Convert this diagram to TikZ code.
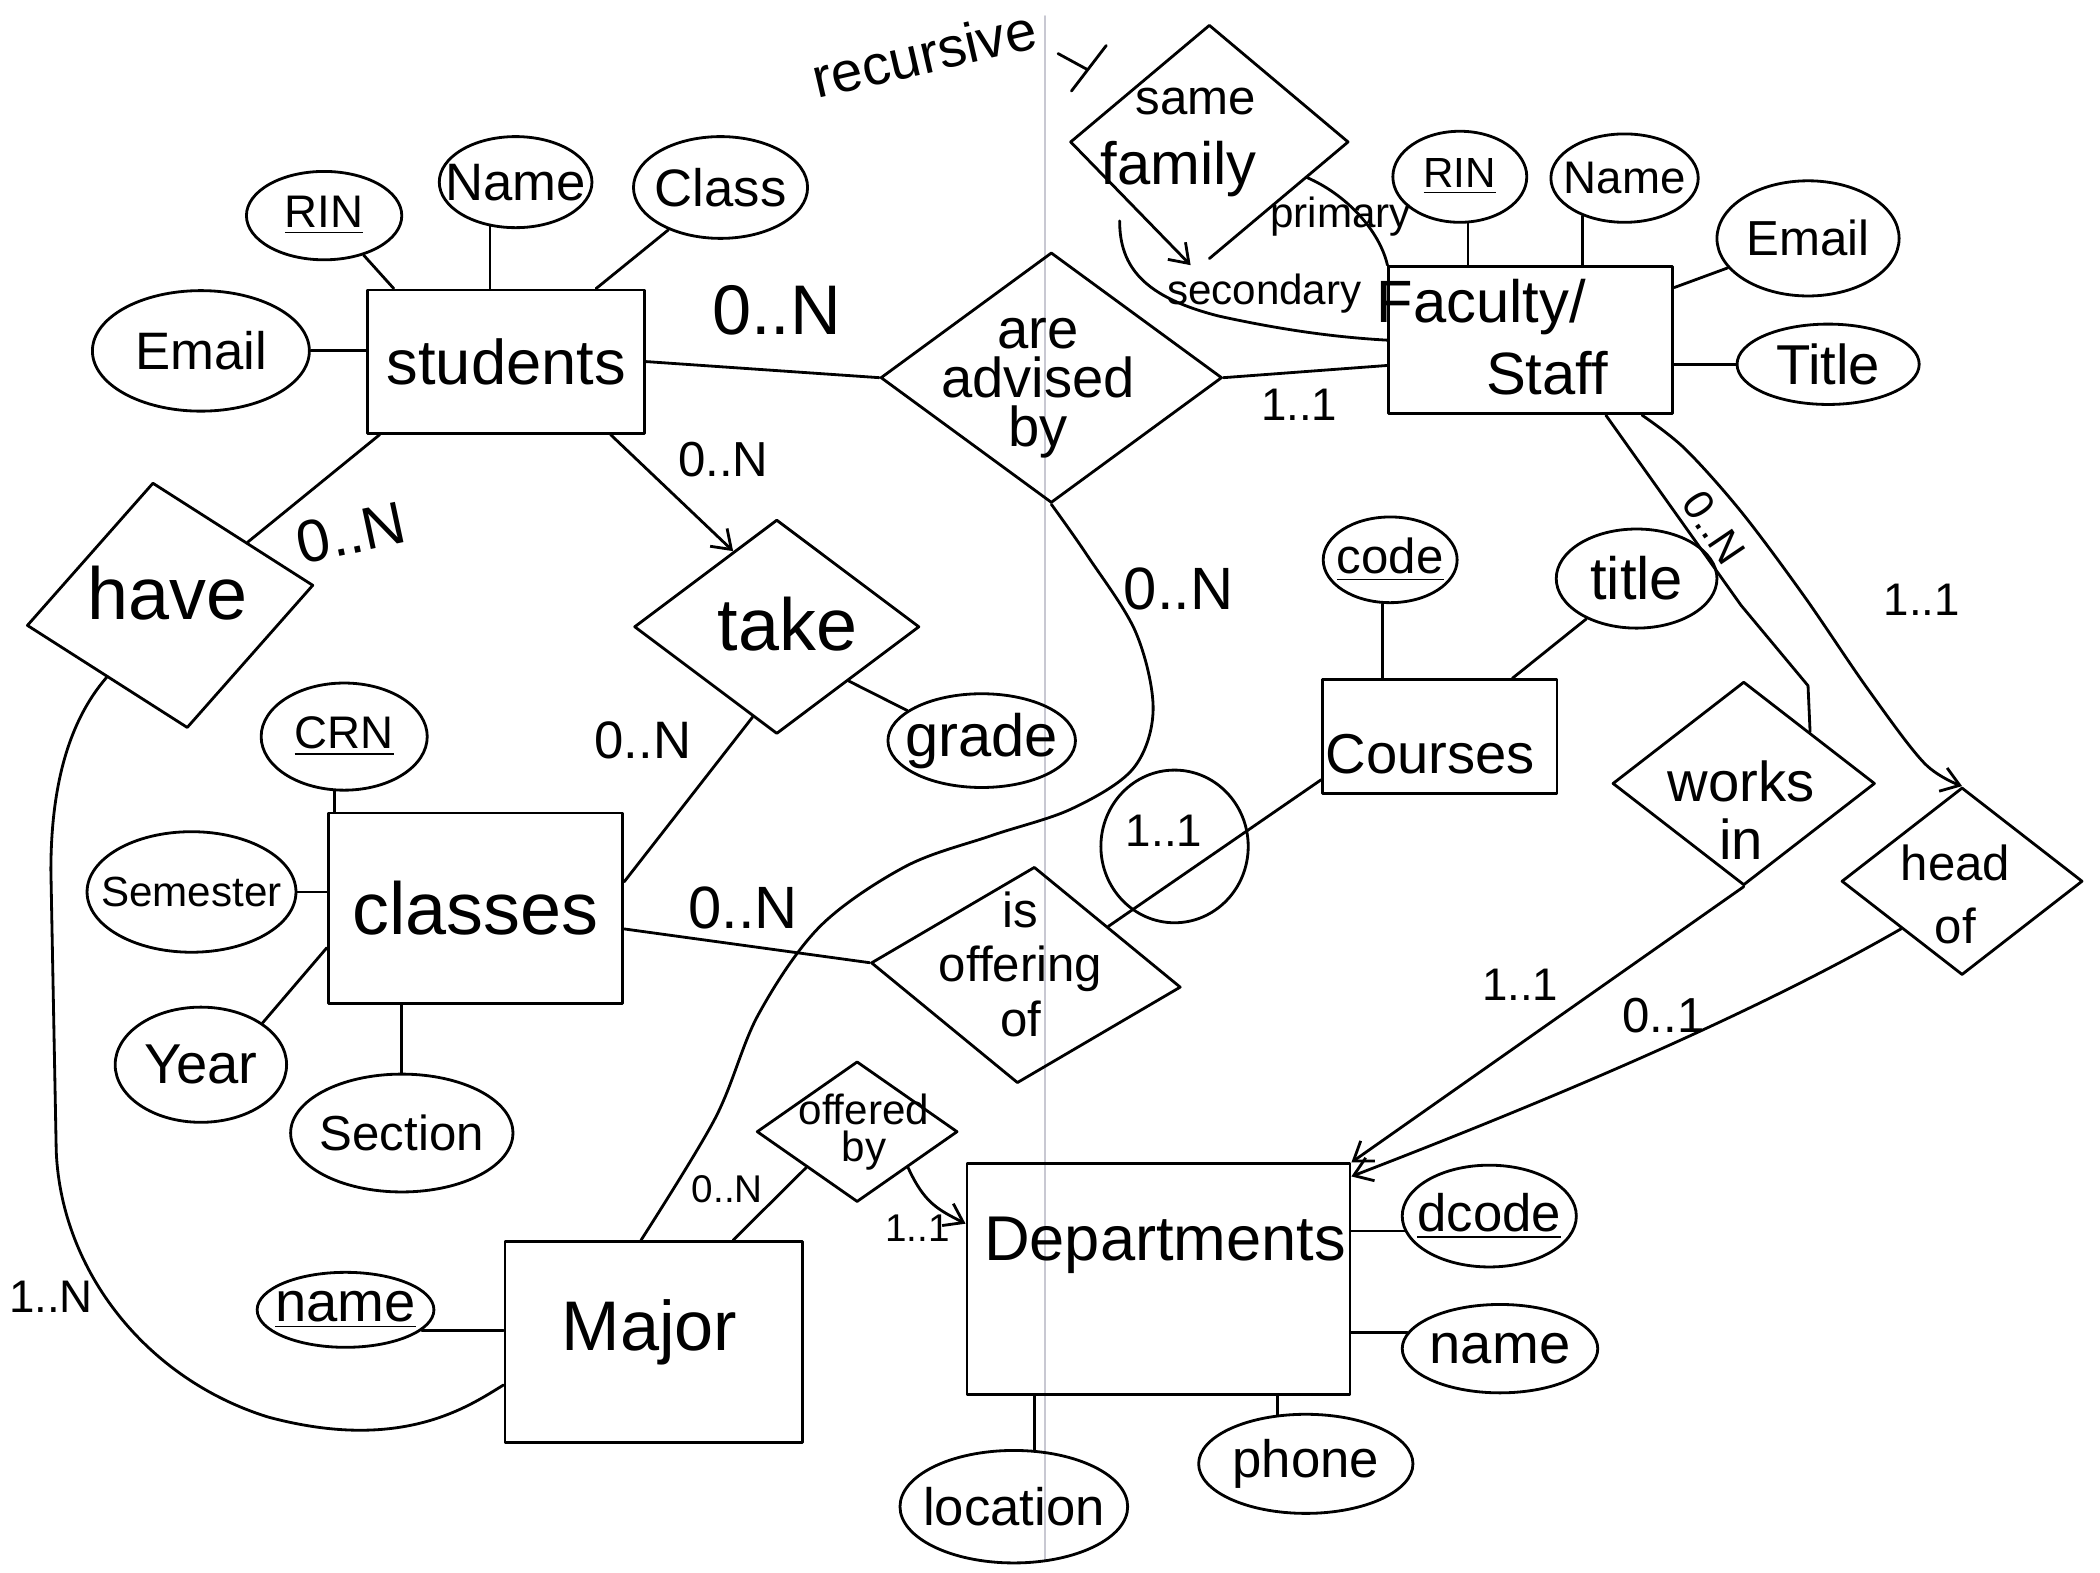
\documentclass[tikz,border=0pt]{standalone}
\usepackage{fontspec}
\setmainfont{Liberation Sans}
\usetikzlibrary{shapes.geometric,arrows.meta}
\newcommand{\myfs}[1]{\fontsize{#1}{#1}\selectfont}
\definecolor{foldgray}{RGB}{200,200,210}
\begin{document}
\begin{tikzpicture}[x=0.0134cm, y=-0.0134cm, line width=0.8pt, line cap=round, line join=round,
  ent/.style n args={2}{draw, rectangle, minimum width=#1*0.0134cm, minimum height=#2*0.0134cm, inner sep=0pt},
  att/.style n args={2}{draw, ellipse, minimum width=#1*0.0134cm, minimum height=#2*0.0134cm, inner sep=0pt},
  rel/.style n args={3}{draw, diamond, minimum width=#1*0.0134cm, minimum height=#2*0.0134cm, inner sep=0pt, rotate=#3},
  txt/.style={inner sep=0pt, align=center},
  arr/.style={-{Straight Barb[length=5pt,width=7pt]}},
]
\fill[white] (0,0) rectangle (1568,1174);
\useasboundingbox (0,0) rectangle (1568,1174);
\draw[line width=0.5pt, foldgray] (780,12) -- (780,1165);

% ---------- entities
\node[ent={207}{107}, font=\myfs{18}] (stu) at (378,270) {students};
\node[ent={212}{110}] (fac) at (1143,254) {};
\node[txt, font=\myfs{17}] (fact1) at (1106,229) {Faculty/};
\node[txt, font=\myfs{17}] (fact2) at (1155,279) {Staff};
\node[ent={175}{85}] (cou) at (1075,550) {};
\node[txt, font=\myfs{16}] (cout) at (1068,563) {Courses};
\node[ent={220}{142}, font=\myfs{21}] (cls) at (355,678) {classes};
\node[ent={222}{150}] (maj) at (488,1002) {};
\node[txt, font=\myfs{20}] (majt) at (485,995) {Major};
\node[ent={286}{172}] (dep) at (865,955) {};
\node[txt, font=\myfs{18}] (dept) at (870,930) {Departments};

% ---------- relationships
\node[rel={255}{187}{0}] (adv) at (785,282) {};
\node[txt, font=\fontsize{16}{14}\selectfont] (advt) at (775,290) {are\\advised\\by};
\node[rel={205}{172}{0}, draw=none] (fam) at (903,106) {};
\draw (fam.west) -- (fam.north) -- (fam.east) -- (fam.south);
\node[txt, font=\myfs{14}] (famt1) at (893,76) {same};
\node[txt, font=\myfs{17}] (famt2) at (880,126) {family};
\node[rel={216}{185}{8}] (have) at (127,452) {};
\node[txt, font=\myfs{21}] (havet) at (125,443) {have};
\node[rel={213}{160}{0}] (take) at (580,468) {};
\node[txt, font=\myfs{21}] (taket) at (588,466) {take};
\node[rel={232}{162}{-4.5}] (off) at (766,728) {};
\node[txt, font=\fontsize{14}{15.5}\selectfont] (offt) at (762,720) {is\\offering\\of};
\node[rel={150}{105}{0}] (offby) at (640,845) {};
\node[txt, font=\fontsize{12}{10.5}\selectfont] (offbyt) at (645,845) {offered\\by};
\node[rel={196}{152}{0}] (works) at (1302,585) {};
\node[txt, font=\fontsize{16}{16.5}\selectfont] (workst) at (1300,605) {works\\in};
\node[rel={180}{140}{0}] (head) at (1465,658) {};
\node[txt, font=\fontsize{14}{18}\selectfont] (headt) at (1460,668) {head\\of};

% ---------- attributes
\node[att={116}{66}, label={[font=\myfs{13}]center:\underline{RIN}}] (srin) at (242,161) {};
\node[att={114}{68}, label={[font=\myfs{15}]center:Name}] (sname) at (385,136) {};
\node[att={130}{76}, label={[font=\myfs{15}]center:Class}] (sclass) at (538,140) {};
\node[att={162}{90}, label={[font=\myfs{15}]center:Email}] (semail) at (150,262) {};
\node[att={100}{68}, label={[font=\myfs{12}]center:\underline{RIN}}] (frin) at (1090,132) {};
\node[att={110}{66}, label={[font=\myfs{13}]center:Name}] (fname) at (1213,133) {};
\node[att={136}{86}, label={[font=\myfs{14}]center:Email}] (femail) at (1350,178) {};
\node[att={136}{60}, label={[font=\myfs{16}]center:Title}] (ftitle) at (1365,272) {};
\node[att={100}{64}, label={[font=\myfs{14}]center:\underline{code}}] (ccode) at (1038,418) {};
\node[att={120}{74}, label={[font=\myfs{17}]center:title}] (ctitle) at (1222,432) {};
\node[att={124}{80}, label={[font=\myfs{13}]center:\underline{CRN}}] (crn) at (257,550) {};
\node[att={156}{90}, label={[font=\myfs{12}]center:Semester}] (sem) at (143,666) {};
\node[att={128}{86}, label={[font=\myfs{16}]center:Year}] (year) at (150,795) {};
\node[att={166}{88}, label={[font=\myfs{14}]center:Section}] (sect) at (300,846) {};
\node[att={140}{70}, label={[font=\myfs{17}]center:grade}] (grade) at (733,553) {};
\node[att={130}{76}, label={[font=\myfs{15}]center:\underline{dcode}}] (dcode) at (1112,908) {};
\node[att={146}{66}, label={[font=\myfs{16}]center:name}] (dname) at (1120,1007) {};
\node[att={170}{84}, label={[font=\myfs{15}]center:location}] (loc) at (757,1125) {};
\node[att={160}{74}, label={[font=\myfs{15}]center:phone}] (phone) at (975,1093) {};
\node[att={132}{56}, label={[font=\myfs{16}]center:\underline{name}}] (mname) at (258,978) {};
\node[att={110}{114}, label={[font=\myfs{13}, xshift=-3pt, yshift=4.5pt]center:1..1}] (card) at (877,632) {};

% ---------- relationship connectors
\draw (stu.east) -- (adv.west);
\draw (adv.east) -- (fac.190);
\draw[arr] (stu.-35) -- (take.120);
\draw (stu.210) -- (have);
\draw (have.south west) .. controls (50,540) and (38,590) .. (38,650) -- (42,860)
      .. controls (46,950) and (110,1030) .. (200,1058) .. controls (300,1085) and (350,1050) .. (maj.196);
\draw (take.255) -- (cls.10);
\draw (take.south east) -- (grade.158);
\draw (cls.-8) -- (off.west);
\draw (off.north east) -- (cou.200);
\draw plot[smooth, tension=0.55] coordinates {(adv.south) (812,415) (848,472) (861,530) (846,574) (800,604) (740,624) (676,647) (612,692) (566,758) (534,835) (maj.97)};
\draw (offby.south west) -- (maj.52);
\draw[arr] (offby.south east) .. controls (690,898) and (700,903) .. (dep.164);
\draw (fac.-45) -- (1300,452) -- (1350,512) -- (works.north east);
\draw[arr] plot[smooth, tension=0.55] coordinates {(fac.-34) (1258,335) (1300,382) (1347,445) (1395,515) (1437,570) (head.north)};
\draw[arr] (works.south) -- (dep.north east);
\draw[arr] (head.south west) .. controls (1330,745) and (1200,805) .. (dep.28);
\draw (fam.-20) .. controls (1005,145) and (1030,172) .. (fac.north west);
\coordinate (secst) at (836,165);
\draw (secst) .. controls (836,200) and (855,222) .. (910,236) .. controls (960,247) and (1000,252) .. (fac.west);
\coordinate (famtip) at (889,198);
\draw[arr] (fam.west) -- (famtip);

% ---------- attribute connectors
\draw (srin.-45) -- (stu.147);
\draw (sname.240) -- (sname.240 |- stu.north);
\draw (sclass) -- (stu);
\draw (semail.east) -- (semail.east -| stu.west);
\draw (frin.-80) -- (frin.-80 |- fac.north);
\draw (fname.222) -- (fname.222 |- fac.north);
\draw (femail) -- (fac);
\draw (ftitle.west) -- (ftitle.west -| fac.east);
\draw (ccode.-100) -- (ccode.-100 |- cou.north);
\draw (ctitle) -- (cou);
\draw (crn.-100) -- (crn.-100 |- cls.north);
\draw (sem.east) -- (sem.east -| cls.west);
\draw (year.north east) -- (cls.195);
\draw (sect.north) -- (sect.north |- cls.south);
\draw (dcode.190) -- (dcode.190 -| dep.east);
\draw (dname.170) -- (dname.170 -| dep.east);
\draw (loc.70) -- (loc.70 |- dep.south);
\draw (phone.120) -- (phone.120 |- dep.south);
\draw (mname.-15) -- (mname.-15 -| maj.west);

% ---------- cardinalities and notes
\node[font=\myfs{20}] (l1) at (580,232) {0..N};
\node[font=\myfs{13}] (l2) at (970,302) {1..1};
\node[font=\myfs{14}] (l3) at (540,343) {0..N};
\node[font=\myfs{17}, rotate=12] (l4) at (262,398) {0..N};
\node[font=\myfs{13}] (l5) at (38,968) {1..N};
\node[font=\myfs{15}] (l6) at (480,553) {0..N};
\node[font=\myfs{17}] (l7) at (555,678) {0..N};
\node[font=\myfs{17}] (l8) at (880,440) {0..N};
\node[font=\myfs{11}] (l9) at (543,888) {0..N};
\node[font=\myfs{11}] (l10) at (685,917) {1..1};
\node[font=\myfs{12}, rotate=-56] (l11) at (1280,394) {0..N};
\node[font=\myfs{13}] (l12) at (1435,448) {1..1};
\node[font=\myfs{13}] (l13) at (1135,735) {1..1};
\node[font=\myfs{14}] (l14) at (1242,758) {0..1};
\node[font=\myfs{12}] (prim) at (1001,162) {primary};
\node[font=\myfs{12}] (seclab) at (944,219) {secondary};
\node[font=\myfs{16}, rotate=13] (recur) at (690,40) {recursive};
\draw (790,40) -- (812,52);
\draw (826,34) -- (800,68);
\end{tikzpicture}
\end{document}
